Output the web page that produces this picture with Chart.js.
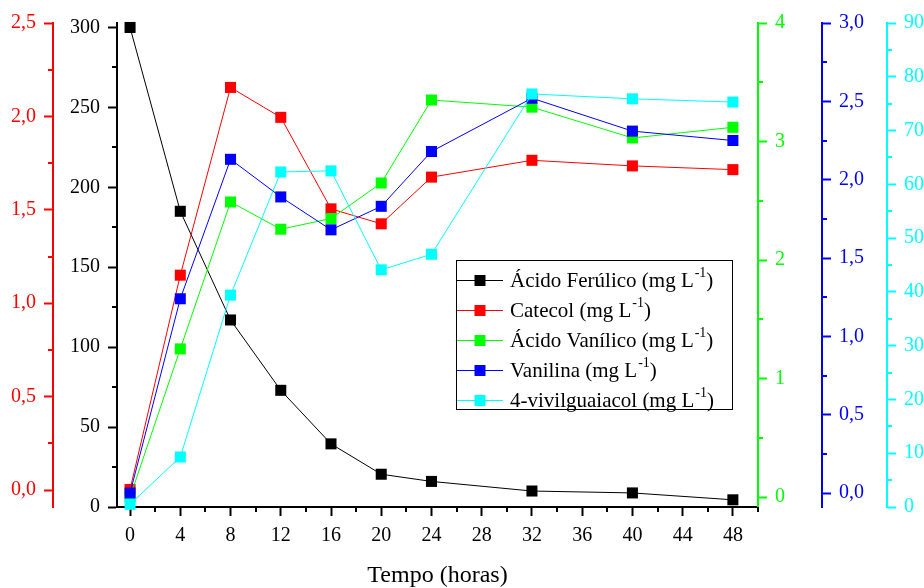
<!DOCTYPE html>
<html>
<head>
<meta charset="utf-8">
<script src="https://cdn.jsdelivr.net/npm/chart.js@4"></script>
<style>
  html, body { margin: 0; padding: 0; background: #ffffff; }
  #wrap { width: 924px; height: 588px; }
</style>
</head>
<body>
<div id="wrap"><canvas id="c" width="924" height="588"></canvas></div>
<script>
// Sampling times (h) and measured concentrations
const horas = [0, 4, 8, 12, 16, 20, 24, 32, 40, 48];
const acidoFerulico = [300, 185, 117, 73, 39.5, 20.5, 16, 10, 8.8, 4.5];
const catecol = [0.003, 1.15, 2.155, 1.995, 1.505, 1.425, 1.675, 1.765, 1.735, 1.715];
const acidoVanilico = [0.0, 1.25, 2.49, 2.26, 2.35, 2.65, 3.35, 3.29, 3.03, 3.12];
const vanilina = [0.0, 1.24, 2.13, 1.89, 1.68, 1.83, 2.18, 2.52, 2.31, 2.25];
const vinilguaiacol = [0.5, 9.3, 39.4, 62.3, 62.5, 44.1, 47.0, 76.8, 75.9, 75.3];

const seriesLabels = ['Ácido Ferúlico', 'Catecol', 'Ácido Vanílico', 'Vanilina', '4-vivilguaiacol'];
const unidade = 'mg L';
const expoente = '-1';
const tituloX = 'Tempo (horas)';

const seriesValues = [acidoFerulico, catecol, acidoVanilico, vanilina, vinilguaiacol];
const seriesColors = ['#000000', '#ff0000', '#00ff00', '#0000ff', '#00ffff'];
const axisIds = ['yFer', 'yCat', 'yVan', 'yVanil', 'yVin'];
// cyan drawn on top, black at the bottom
const drawOrder = [5, 4, 3, 2, 1];

const FONT = '"Liberation Serif", "Times New Roman", serif';
const comma1 = v => v.toFixed(1).replace('.', ',');

const datasets = seriesValues.map((vals, i) => ({
  label: seriesLabels[i],
  data: horas.map((h, k) => ({ x: h, y: vals[k] })),
  yAxisID: axisIds[i],
  order: drawOrder[i],
  borderColor: seriesColors[i],
  backgroundColor: seriesColors[i],
  borderWidth: 1,
  pointStyle: 'rect',
  pointRadius: 7.8,
  pointHoverRadius: 7.8,
  pointBorderWidth: 0,
  pointBackgroundColor: seriesColors[i],
  tension: 0,
  clip: false
}));

function vAxis(pos, weight, color, min, max, step, width, fmt) {
  return {
    type: 'linear',
    position: pos,
    weight: weight,
    min: min,
    max: max,
    border: { display: true, color: color, width: 2 },
    grid: { drawOnChartArea: false, drawTicks: true, tickLength: 9, tickWidth: 2, tickColor: color },
    ticks: {
      stepSize: step,
      includeBounds: false,
      color: color,
      padding: 8,
      font: { family: FONT, size: 20 },
      callback: fmt
    },
    afterFit: s => { s.width = width; }
  };
}

// short ticks between the labelled ones
const minorSteps = { x: 2, yFer: 25, yCat: 0.25, yVan: 0.5, yVanil: 0.25, yVin: 5 };
const minorTicks = {
  id: 'minorTicks',
  afterDraw(chart) {
    const ctx = chart.ctx;
    ctx.save();
    ctx.lineWidth = 2;
    for (const id of Object.keys(minorSteps)) {
      const s = chart.scales[id];
      const step = minorSteps[id];
      ctx.strokeStyle = s.options.border.color;
      const start = Math.ceil(s.min / step - 1e-9);
      const end = Math.floor(s.max / step + 1e-9);
      for (let k = start; k <= end; k++) {
        if (k % 2 === 0) continue;
        const p = Math.round(s.getPixelForValue(k * step));
        ctx.beginPath();
        if (s.isHorizontal()) {
          ctx.moveTo(p, s.top); ctx.lineTo(p, s.top + 5);
        } else if (s.position === 'left') {
          ctx.moveTo(s.right - 5, p); ctx.lineTo(s.right, p);
        } else {
          ctx.moveTo(s.left, p); ctx.lineTo(s.left + 5, p);
        }
        ctx.stroke();
      }
    }
    ctx.restore();
  }
};

// boxed legend with line-marker-line symbols and superscript units
const boxLegend = {
  id: 'boxLegend',
  afterDraw(chart) {
    const ctx = chart.ctx;
    const bx = 456, by = 260, bw = 276, bh = 149;
    ctx.save();
    ctx.fillStyle = '#ffffff';
    ctx.fillRect(bx, by, bw, bh);
    ctx.strokeStyle = '#000000';
    ctx.lineWidth = 1;
    ctx.strokeRect(bx + 0.5, by + 0.5, bw, bh);
    seriesLabels.forEach((lab, i) => {
      const y = 280 + i * 30;
      ctx.strokeStyle = seriesColors[i];
      ctx.lineWidth = 1;
      ctx.beginPath();
      ctx.moveTo(bx + 1, y + 0.5);
      ctx.lineTo(503, y + 0.5);
      ctx.stroke();
      ctx.fillStyle = seriesColors[i];
      ctx.fillRect(474.5, y - 5, 11, 11);
      ctx.fillStyle = '#000000';
      ctx.textBaseline = 'middle';
      ctx.textAlign = 'left';
      ctx.font = '21px ' + FONT;
      let x = 510;
      const main = lab + ' (' + unidade;
      ctx.fillText(main, x, y + 1);
      x += ctx.measureText(main).width;
      ctx.font = '14px ' + FONT;
      ctx.fillText(expoente, x + 1, y - 7);
      x += ctx.measureText(expoente).width + 1;
      ctx.font = '21px ' + FONT;
      ctx.fillText(')', x, y + 1);
    });
    ctx.restore();
  }
};

new Chart(document.getElementById('c'), {
  type: 'line',
  data: { datasets: datasets },
  plugins: [minorTicks, boxLegend],
  options: {
    responsive: false,
    devicePixelRatio: 1,
    animation: false,
    layout: { padding: { top: 23, left: 0, right: 0, bottom: 0 } },
    plugins: { legend: { display: false }, tooltip: { enabled: false } },
    scales: {
      x: {
        type: 'linear',
        position: 'bottom',
        min: -1.04,
        max: 50,
        border: { display: true, color: '#000000', width: 2 },
        grid: { drawOnChartArea: false, drawTicks: true, tickLength: 9, tickWidth: 2, tickColor: '#000000' },
        ticks: {
          stepSize: 4,
          includeBounds: false,
          color: '#000000',
          padding: 8,
          maxRotation: 0,
          font: { family: FONT, size: 20 }
        },
        title: {
          display: true,
          text: tituloX,
          color: '#000000',
          padding: { top: 0, bottom: 0 },
          font: { family: FONT, size: 24, lineHeight: 1 }
        },
        afterFit: s => { s.height = 81; }
      },
      yFer: vAxis('left', 1, '#000000', 0, 302.8, 50, 64, v => String(v)),
      yCat: vAxis('left', 2, '#ff0000', -0.091, 2.5, 0.5, 53, comma1),
      yVan: vAxis('right', 1, '#00ff00', -0.084, 4, 1, 64, v => String(v)),
      yVanil: vAxis('right', 2, '#0000ff', -0.089, 3, 0.5, 65, comma1),
      yVin: vAxis('right', 3, '#00ffff', 0, 90, 10, 37, v => String(v))
    }
  }
});
</script>
</body>
</html>
